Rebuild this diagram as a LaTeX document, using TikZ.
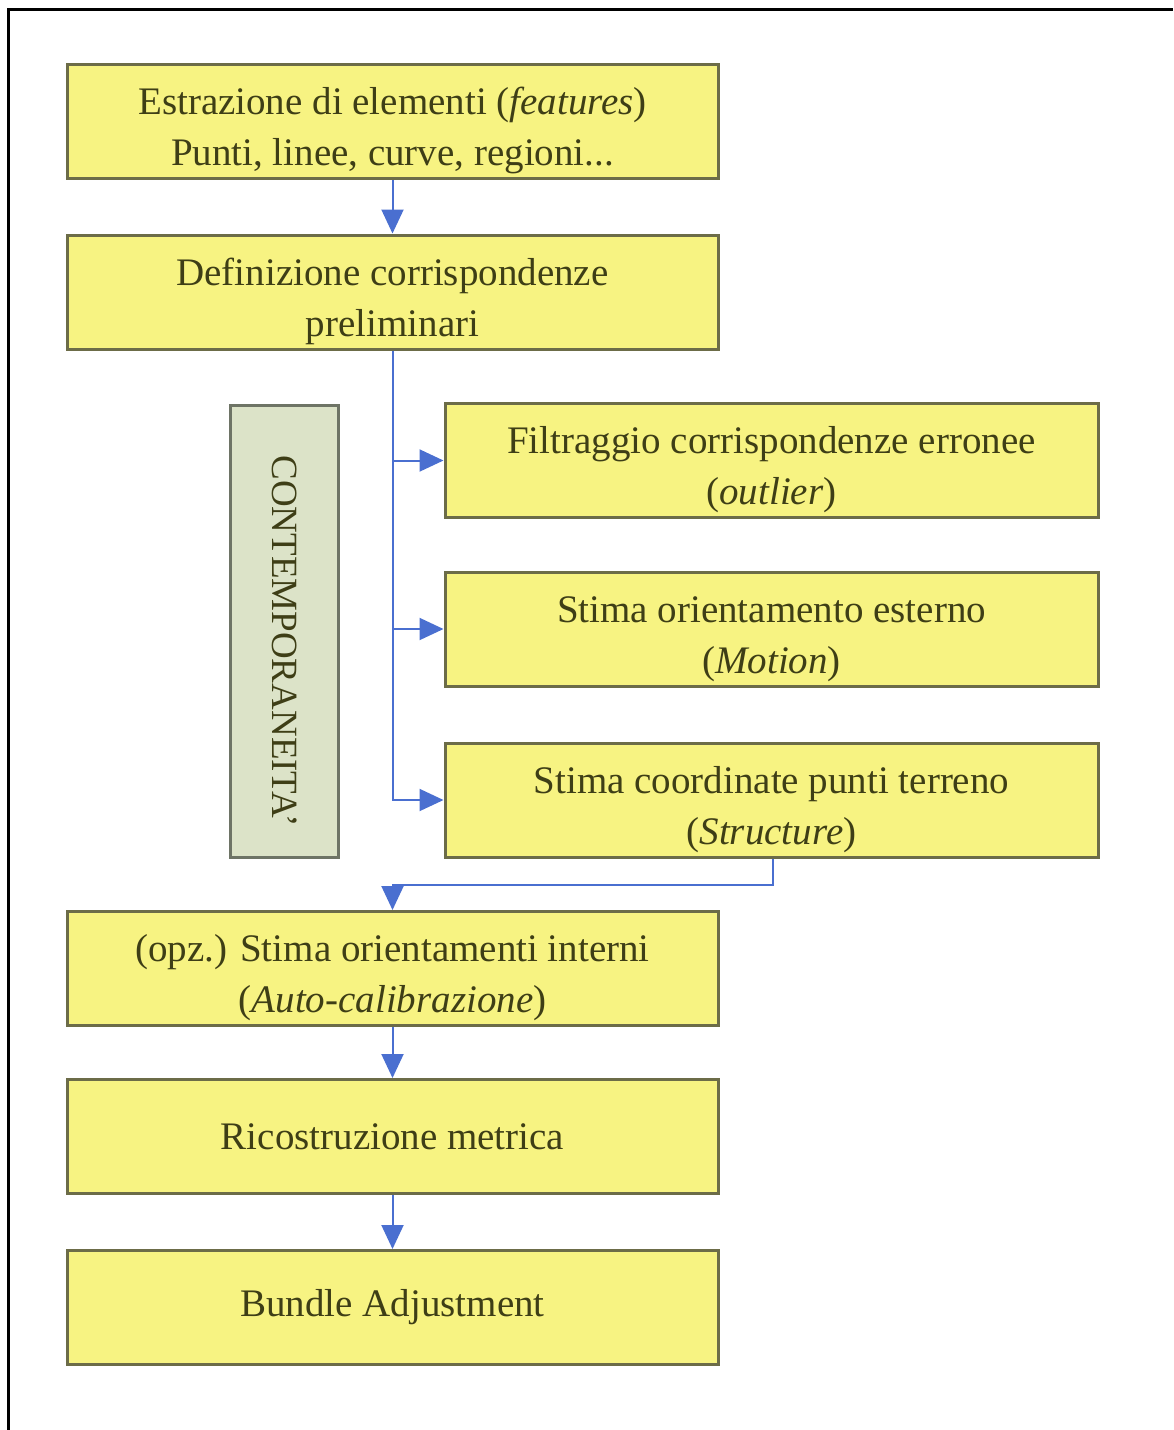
\documentclass[tikz,border=0pt]{standalone}
\usepackage{fontspec}
\setmainfont{Liberation Serif}
\usetikzlibrary{arrows.meta}
\definecolor{boxfill}{HTML}{F7F382}
\definecolor{boxdraw}{HTML}{6C6C48}
\definecolor{txtcol}{HTML}{3E3E16}
\definecolor{gfill}{HTML}{DCE3C8}
\definecolor{gdraw}{HTML}{6E7466}
\definecolor{arrcol}{HTML}{4A6FD0}
\newcommand\mytstrut{\rule{0pt}{46pt}}
\begin{document}
\begin{tikzpicture}[x=1pt,y=-1pt,
  ybox/.style={draw=boxdraw, line width=3pt, fill=boxfill, text=txtcol,
    minimum width=651pt, minimum height=114pt, align=center, inner sep=0pt,
    font=\fontsize{39}{51}\selectfont},
  wbox/.style={ybox, minimum width=653pt},
  gbox/.style={draw=gdraw, line width=3pt, fill=gfill,
    minimum width=108pt, minimum height=452pt, inner sep=0pt},
  vtext/.style={text=txtcol, rotate=-90, inner sep=0pt,
    font=\fontsize{37}{44}\selectfont},
  conn/.style={draw=arrcol, line width=2pt,
    -{Triangle[length=24pt,width=22pt]}},
  frame/.style={draw=black, line width=3pt}
]
\useasboundingbox (0,0) rectangle (1173,1430);
\coordinate (fb) at (8,1430);
\coordinate (fc) at (8,9);
\coordinate (fr) at (1173,9);
\draw[frame] (fb) -- (fc) -- (fr);

\node[ybox] (b1) at (392.5,121.5) {\mytstrut Estrazione di elementi (\textit{features})\\Punti, linee, curve, regioni...};
\node[ybox] (b2) at (392.5,292) {\mytstrut Definizione corrispondenze\\preliminari};
\node[gbox] (v) at (284,631) {};
\node[vtext] (vt) at (285,641) {CONTEMPORANEITA'};
\node[wbox] (cF) at (771.5,460.5) {\mytstrut Filtraggio corrispondenze erronee\\(\textit{outlier})};
\node[wbox] (cS) at (771.5,629) {\mytstrut Stima orientamento esterno\\(\textit{Motion})};
\node[wbox] (cC) at (771.5,800) {\mytstrut Stima coordinate punti terreno\\(\textit{Structure})};
\node[ybox] (bO) at (392.5,968.5) {\mytstrut (opz.) Stima orientamenti interni\\(\textit{Auto-calibrazione})};
\node[ybox] (bR) at (392.5,1136.5) {Ricostruzione metrica};
\node[ybox] (bB) at (392.5,1307.5) {Bundle Adjustment};

\draw[conn] (b1.south) -- (b2.north);
\draw[conn] (b2.south) |- (cF.west);
\draw[conn] (b2.south) |- (cS.west);
\draw[conn] (b2.south) |- (cC.west);
\coordinate (k) at (773,885);
\draw[conn] (cC.south -| k) -- (k) -| (bO.north);
\draw[conn] (bO.south) -- (bR.north);
\draw[conn] (bR.south) -- (bB.north);
\end{tikzpicture}
\end{document}
